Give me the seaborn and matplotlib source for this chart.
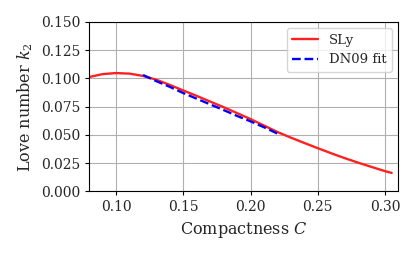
import pandas as pd
import matplotlib
matplotlib.use("Agg")
import matplotlib.pyplot as plt
import seaborn as sns

# SLy curve
sly_c = [0.080, 0.090, 0.100, 0.110, 0.120, 0.130, 0.140, 0.150, 0.160, 0.170,
         0.180, 0.190, 0.200, 0.210, 0.220, 0.230, 0.240, 0.250, 0.260, 0.270,
         0.280, 0.290, 0.300, 0.305]
sly_k2 = [0.1012, 0.1038, 0.1047, 0.1042, 0.1022, 0.0988, 0.0942, 0.0893, 0.0845, 0.0795,
          0.0745, 0.0693, 0.0640, 0.0583, 0.0526, 0.0476, 0.0429, 0.0383, 0.0338, 0.0295,
          0.0255, 0.0217, 0.0180, 0.0164]

# DN09 fit
fit_c = [0.120, 0.130, 0.140, 0.150, 0.160, 0.170, 0.180, 0.190, 0.200, 0.210, 0.220]
fit_k2 = [0.1030, 0.0975, 0.0925, 0.0870, 0.0820, 0.0770, 0.0720, 0.0668, 0.0620, 0.0568, 0.0512]

sly = pd.DataFrame({"C": sly_c, "k2": sly_k2})
fit = pd.DataFrame({"C": fit_c, "k2": fit_k2})

sns.set_style("whitegrid", {
    "axes.edgecolor": "black",
    "grid.color": "#b0b0b0",
    "xtick.bottom": True,
    "ytick.left": True,
})
plt.rcParams["font.family"] = ["DejaVu Serif"]
plt.rcParams["mathtext.fontset"] = "dejavuserif"

fig, ax = plt.subplots(figsize=(4.15, 2.57), dpi=100)

sns.lineplot(data=sly, x="C", y="k2", color="#ff2020", linewidth=1.7,
             label="SLy", ax=ax)
sns.lineplot(data=fit, x="C", y="k2", color="blue", linewidth=1.7,
             linestyle="--", label="DN09 fit", ax=ax)

ax.set_xlim(0.08, 0.31)
ax.set_ylim(0.0, 0.15)
ax.set_xticks([0.10, 0.15, 0.20, 0.25, 0.30])
ax.set_yticks([0.0, 0.025, 0.05, 0.075, 0.10, 0.125, 0.15])
ax.set_xticklabels(["0.10", "0.15", "0.20", "0.25", "0.30"])
ax.set_yticklabels(["0.000", "0.025", "0.050", "0.075", "0.100", "0.125", "0.150"])
ax.tick_params(labelsize=10, length=3, width=0.8, color="black")
for s in ax.spines.values():
    s.set_linewidth(0.8)
ax.grid(True, linewidth=0.8)

ax.set_xlabel("Compactness $C$", fontsize=11.5)
ax.set_ylabel("Love number $k_2$", fontsize=11.5)
ax.legend(loc="upper right", fontsize=9.5)

fig.subplots_adjust(left=0.215, right=0.96, top=0.915, bottom=0.255)
fig.savefig("out.png", dpi=100)
plt.close()
